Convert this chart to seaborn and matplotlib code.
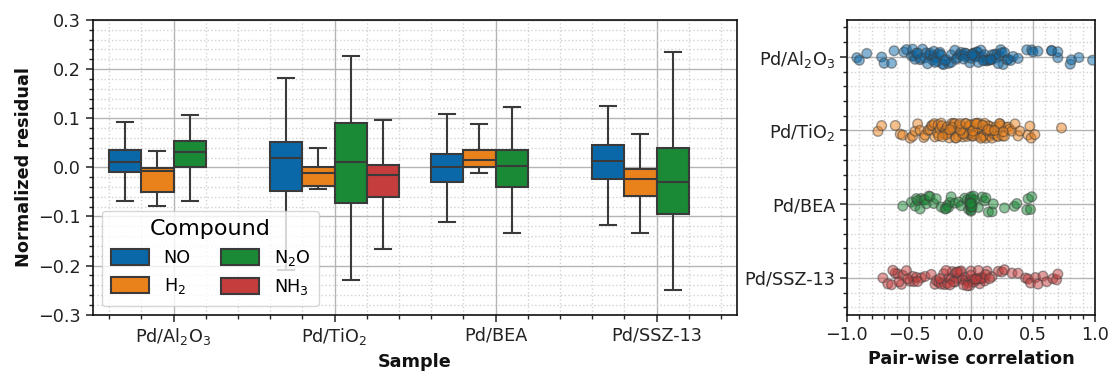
import numpy as np
import pandas as pd
import matplotlib
matplotlib.use("Agg")
import matplotlib.pyplot as plt
import seaborn as sns
from matplotlib.ticker import MultipleLocator

plt.rcParams["font.family"] = ["DejaVu Sans"]

# ---------------------------------------------------------------- data
samples = ["Pd/Al$_2$O$_3$", "Pd/TiO$_2$", "Pd/BEA", "Pd/SSZ-13"]
compounds = ["NO", "H$_2$", "N$_2$O", "NH$_3$"]
colors = ["#0a68a8", "#ea821c", "#1b8a36", "#c63d3d"]

# five-number summaries (min, Q1, median, Q3, max) of the normalized residuals
no_stats = [[-0.068, -0.010, 0.010, 0.036, 0.093],
            [-0.210, -0.048, 0.018, 0.052, 0.182],
            [-0.112, -0.029, 0.000, 0.028, 0.109],
            [-0.117, -0.024, 0.012, 0.046, 0.124]]
h2_stats = [[-0.078, -0.050, -0.008, -0.001, 0.033],
            [-0.045, -0.039, -0.012, 0.001, 0.040],
            [-0.011, 0.000, 0.014, 0.035, 0.089],
            [-0.133, -0.059, -0.023, -0.004, 0.067]]
n2o_stats = [[-0.068, 0.000, 0.031, 0.054, 0.106],
             [-0.229, -0.073, 0.010, 0.091, 0.226],
             [-0.133, -0.040, 0.003, 0.036, 0.122],
             [-0.250, -0.096, -0.029, 0.039, 0.235]]
nh3_stats = [None,
             [-0.167, -0.060, -0.015, 0.004, 0.096],
             None,
             None]

# pair-wise correlation coefficients per catalyst
corr_al2o3 = [-0.92, -0.90, -0.84, -0.72, -0.70, -0.64, -0.62, -0.54, -0.52, -0.48,
              -0.47, -0.46, -0.45, -0.44, -0.41, -0.40, -0.39, -0.37, -0.36, -0.33,
              -0.33, -0.31, -0.30, -0.30, -0.28, -0.27, -0.26, -0.25, -0.24, -0.23,
              -0.22, -0.20, -0.18, -0.16, -0.16, -0.13, -0.12, -0.11, -0.09, -0.08,
              -0.07, -0.05, -0.05, -0.04, -0.02, -0.01, 0.00, 0.02, 0.02, 0.04,
              0.05, 0.05, 0.07, 0.08, 0.09, 0.11, 0.11, 0.13, 0.14, 0.15,
              0.17, 0.17, 0.19, 0.20, 0.21, 0.23, 0.24, 0.25, 0.26, 0.27,
              0.29, 0.30, 0.32, 0.34, 0.38, 0.45, 0.49, 0.50, 0.54, 0.65,
              0.65, 0.70, 0.70, 0.80, 0.81, 0.87, 0.98, -0.43, -0.35, -0.29,
              -0.21, 0.03, 0.06, 0.10, 0.16, 0.22, -0.06, 0.01]
corr_tio2 = [-0.75, -0.72, -0.61, -0.57, -0.55, -0.49, -0.47, -0.45, -0.43, -0.41,
             -0.38, -0.37, -0.345, -0.33, -0.32, -0.31, -0.295, -0.29, -0.27, -0.265,
             -0.25, -0.24, -0.235, -0.22, -0.21, -0.205, -0.19, -0.18, -0.175, -0.16,
             -0.155, -0.14, -0.13, -0.125, -0.11, -0.10, -0.095, -0.08, -0.07, -0.065,
             -0.05, -0.045, -0.03, -0.02, -0.015, 0.00, 0.005, 0.01, 0.025, 0.03,
             0.04, 0.05, 0.055, 0.07, 0.075, 0.09, 0.10, 0.105, 0.12, 0.125,
             0.14, 0.15, 0.155, 0.17, 0.18, 0.185, 0.20, 0.21, 0.22, 0.235,
             0.24, 0.255, 0.27, 0.285, 0.30, 0.31, 0.33, 0.355, 0.38, 0.395,
             0.46, 0.475, 0.485, 0.515, 0.73, -0.12, -0.06, 0.02, 0.06, 0.11,
             -0.2, -0.15, 0.16, -0.01, 0.08, 0.13, -0.26, 0.23, -0.085, 0.035,
             -0.23, -0.17, -0.09, -0.04, 0.015, 0.045, 0.095, 0.14, 0.19, 0.26]
corr_bea = [-0.55, -0.48, -0.45, -0.44, -0.43, -0.41, -0.40, -0.38, -0.37, -0.36,
            -0.34, -0.33, -0.30, -0.28, -0.24, -0.21, -0.19, -0.18, -0.17, -0.16,
            -0.13, -0.10, -0.08, -0.05, -0.03, -0.02, -0.01, 0.00, 0.00, 0.00,
            0.00, 0.00, 0.00, 0.00, 0.00, 0.01, 0.02, 0.03, 0.06, 0.09,
            0.11, 0.14, 0.17, 0.18, 0.27, 0.35, 0.37, 0.45, 0.46, 0.48, 0.49,
            0.00, 0.00, -0.01, 0.01, 0.00, -0.20, 0.12]
corr_ssz13 = [-0.71, -0.67, -0.64, -0.61, -0.59, -0.56, -0.55, -0.52, -0.49, -0.47,
              -0.46, -0.44, -0.40, -0.37, -0.32, -0.29, -0.28, -0.26, -0.24, -0.22,
              -0.21, -0.19, -0.18, -0.16, -0.15, -0.13, -0.12, -0.10, -0.09, -0.08,
              -0.07, -0.05, -0.04, -0.02, -0.01, 0.00, 0.01, 0.03, 0.04, 0.05,
              0.06, 0.07, 0.09, 0.10, 0.11, 0.13, 0.17, 0.22, 0.25, 0.27,
              0.33, 0.38, 0.44, 0.46, 0.48, 0.52, 0.54, 0.58, 0.61, 0.66,
              0.69, 0.70, -0.06, 0.02, -0.11, 0.08, -0.03, -0.20, 0.12, -0.14,
              -0.63, -0.58, -0.51, -0.43, -0.25, -0.17, 0.00, 0.04, 0.06, 0.15]

# ---------------------------------------------------------------- tables
rows = []
for comp, per_sample in zip(compounds, [no_stats, h2_stats, n2o_stats, nh3_stats]):
    for samp, stats in zip(samples, per_sample):
        if stats is None:
            continue
        for v in stats:
            rows.append((samp, comp, v))
resid = pd.DataFrame(rows, columns=["Sample", "Compound", "Normalized residual"])

corr_rows = []
for samp, vals in zip(samples, [corr_al2o3, corr_tio2, corr_bea, corr_ssz13]):
    for v in vals:
        corr_rows.append((samp, v))
corr = pd.DataFrame(corr_rows, columns=["Sample", "Pair-wise correlation"])

# ---------------------------------------------------------------- figure
fig = plt.figure(figsize=(11.1, 3.71), dpi=100)
ax1 = fig.add_axes([0.0838, 0.152, 0.5802, 0.794])
ax2 = fig.add_axes([0.763, 0.152, 0.2235, 0.794])

edge = "#3a3a3a"
sns.boxplot(data=resid, x="Sample", y="Normalized residual", hue="Compound",
            order=samples, hue_order=compounds, palette=colors, saturation=1,
            whis=(0, 100), showfliers=False, width=0.8, linecolor=edge,
            linewidth=1.5, ax=ax1)

np.random.seed(3)
sns.stripplot(data=corr, x="Pair-wise correlation", y="Sample", hue="Sample",
              order=samples, hue_order=samples, palette=colors, jitter=0.11,
              size=7, alpha=0.5, linewidth=1, edgecolor="0.25",
              legend=False, ax=ax2)

for ax in (ax1, ax2):
    ax.set_axisbelow(True)
    ax.grid(which="major", color="#b5b5b5", linewidth=1.0)
    ax.grid(which="minor", color="#d2d2d2", linestyle=":", linewidth=1.0)
    ax.tick_params(which="major", direction="out", length=5, width=1.1,
                   labelsize=12.7, color="#222222", labelcolor="#222222")
    ax.tick_params(which="minor", direction="out", length=3, width=1.0,
                   color="#222222")
    for s in ax.spines.values():
        s.set_color("#111111")
        s.set_linewidth(1.2)

# left panel axes
ax1.set_xlim(-0.5, 3.5)
ax1.set_ylim(-0.3, 0.3)
ax1.yaxis.set_major_locator(MultipleLocator(0.1))
ax1.yaxis.set_minor_locator(MultipleLocator(0.02))
ax1.xaxis.set_minor_locator(MultipleLocator(0.2))
ax1.set_xlabel("Sample", fontsize=12.7, fontweight="bold", color="#111111")
ax1.set_ylabel("Normalized residual", fontsize=12.7, fontweight="bold",
               color="#111111")
sns.move_legend(ax1, "lower left", ncol=2, title="Compound", fontsize=12.7,
                title_fontsize=16, framealpha=0.8, columnspacing=1.7,
                handlelength=2.2, handleheight=0.95, borderpad=0.5)

# right panel axes
ax2.set_xlim(-1.0, 1.0)
ax2.set_ylim(3.5, -0.5)
ax2.xaxis.set_major_locator(MultipleLocator(0.5))
ax2.xaxis.set_minor_locator(MultipleLocator(0.1))
ax2.yaxis.set_minor_locator(MultipleLocator(0.2))
ax2.set_xlabel("Pair-wise correlation", fontsize=12.7, fontweight="bold",
               color="#111111")
ax2.set_ylabel("")

fig.savefig("out.png", dpi=100)
